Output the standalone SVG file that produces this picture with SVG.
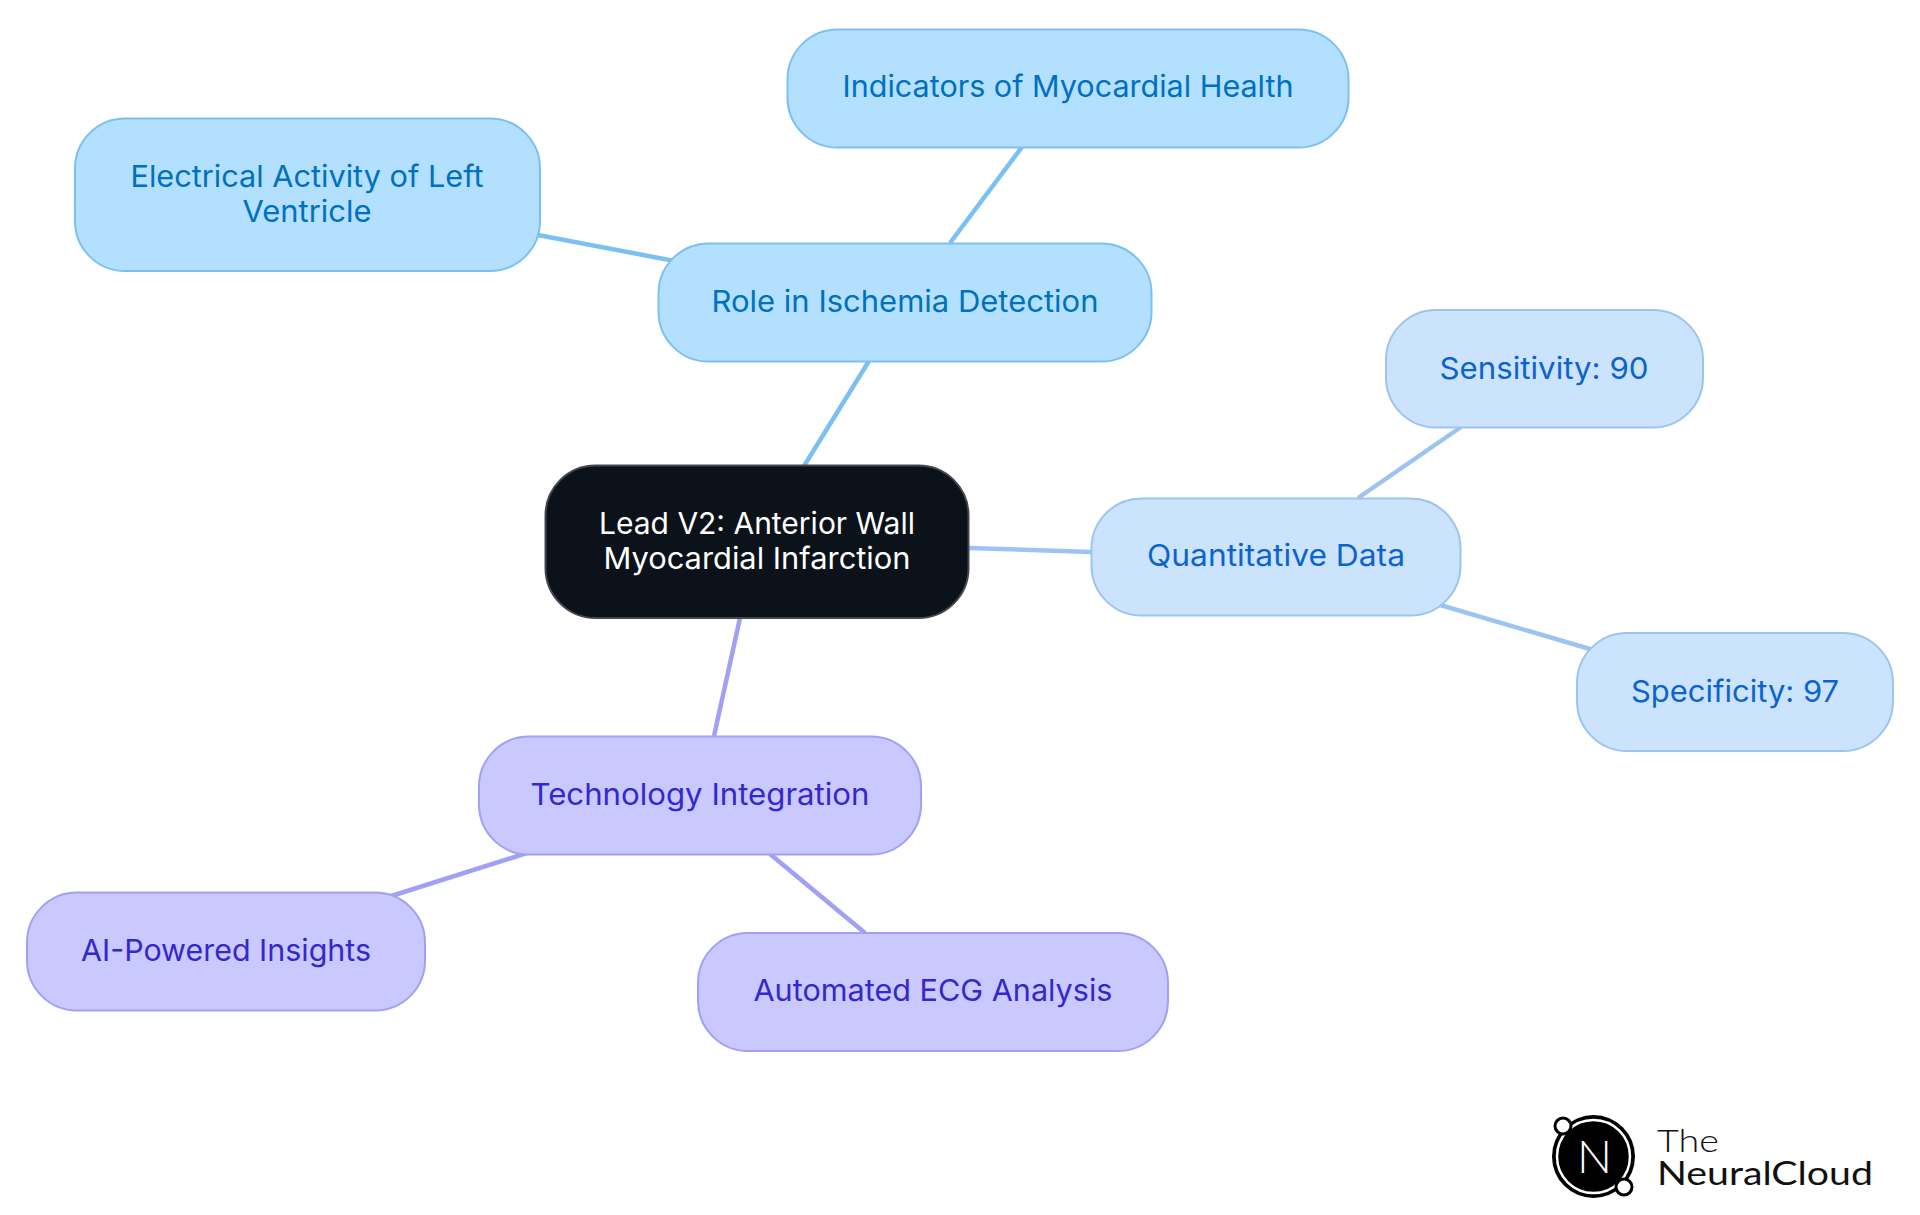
<svg xmlns="http://www.w3.org/2000/svg" width="1920" height="1215" viewBox="0 0 1920 1215">
<style>
text{font-family:"Inter","Noto Sans","Liberation Sans",sans-serif;font-size:30px;text-anchor:middle;font-weight:400}
.c{fill:none;stroke-width:4.5;stroke-linecap:butt}
.c1{stroke:#7cc0f2}.c2{stroke:#9cc4f0}.c3{stroke:#a0a0f5}
rect{stroke-width:2}
.n0 rect{fill:#0c121a;stroke:#44474c}.n0 text{fill:#fff}
.n1 rect{fill:#b3e0ff;stroke:#7cc0f2}.n1 text{fill:#0070c0}
.n2 rect{fill:#cce3fd;stroke:#9cc4f0}.n2 text{fill:#0b63cf}
.n3 rect{fill:#c9c9ff;stroke:#a0a0f5}.n3 text{fill:#3428cc}
.logo{font-family:"Lato","Open Sans",sans-serif;text-anchor:start;fill:#111;font-size:32px}
</style>
<rect width="1920" height="1215" fill="#fff" stroke="none"/>
<g id="connectors">
<path class="c c1" d="M804 466L869 361"/>
<path class="c c1" d="M950 243L1022 147"/>
<path class="c c1" d="M538 235L680 262"/>
<path class="c c2" d="M969 548L1091 552"/>
<path class="c c2" d="M1358 498L1461 427"/>
<path class="c c2" d="M1430 602L1600 652"/>
<path class="c c3" d="M740 618L714 736"/>
<path class="c c3" d="M527 853L385 898"/>
<path class="c c3" d="M770 854L865 933"/>
</g>
<g id="center" class="n0"><rect x="545.5" y="465.5" width="423" height="152.5" rx="50"/><text x="757" y="534" textLength="316" lengthAdjust="spacingAndGlyphs">Lead V2: Anterior Wall</text><text x="757" y="568.5" textLength="307" lengthAdjust="spacingAndGlyphs">Myocardial Infarction</text></g>
<g id="role" class="n1"><rect x="658.5" y="243.5" width="493" height="118" rx="50"/><text x="905" y="312" textLength="387" lengthAdjust="spacingAndGlyphs">Role in Ischemia Detection</text></g>
<g id="indicators" class="n1"><rect x="787.5" y="29.5" width="561" height="118" rx="50"/><text x="1068" y="97" textLength="451" lengthAdjust="spacingAndGlyphs">Indicators of Myocardial Health</text></g>
<g id="electrical" class="n1"><rect x="75" y="118.5" width="465" height="152.5" rx="50"/><text x="307" y="187" textLength="353" lengthAdjust="spacingAndGlyphs">Electrical Activity of Left</text><text x="307" y="221.5" textLength="129" lengthAdjust="spacingAndGlyphs">Ventricle</text></g>
<g id="quantitative" class="n2"><rect x="1091.5" y="498.5" width="369" height="117" rx="50"/><text x="1276" y="566" textLength="258" lengthAdjust="spacingAndGlyphs">Quantitative Data</text></g>
<g id="sensitivity" class="n2"><rect x="1386" y="310" width="317" height="117.5" rx="50"/><text x="1544" y="379" textLength="209" lengthAdjust="spacingAndGlyphs">Sensitivity: 90</text></g>
<g id="specificity" class="n2"><rect x="1577" y="633" width="316" height="118" rx="50"/><text x="1735" y="702" textLength="208" lengthAdjust="spacingAndGlyphs">Specificity: 97</text></g>
<g id="technology" class="n3"><rect x="479" y="736.5" width="442" height="118" rx="50"/><text x="700" y="805" textLength="339" lengthAdjust="spacingAndGlyphs">Technology Integration</text></g>
<g id="ai" class="n3"><rect x="27" y="892.5" width="398" height="118" rx="50"/><text x="226" y="961" textLength="290" lengthAdjust="spacingAndGlyphs">AI-Powered Insights</text></g>
<g id="automated" class="n3"><rect x="698" y="933" width="470" height="118" rx="50"/><text x="933" y="1001" textLength="359" lengthAdjust="spacingAndGlyphs">Automated ECG Analysis</text></g>
<g id="logo">
<circle cx="1593.5" cy="1156.5" r="41.5" fill="#000"/>
<circle cx="1593.5" cy="1156.5" r="36.5" fill="none" stroke="#fff" stroke-width="2.5"/>
<circle cx="1563" cy="1126" r="8" fill="#fff" stroke="#000" stroke-width="3"/>
<circle cx="1624" cy="1187" r="8" fill="#fff" stroke="#000" stroke-width="3"/>
<text x="1594.5" y="1173" textLength="35" lengthAdjust="spacingAndGlyphs" style="font-family:'Lato',sans-serif;font-size:46px;font-weight:300;fill:#fff">N</text>
<text class="logo" x="1657" y="1152" textLength="62" lengthAdjust="spacingAndGlyphs" style="font-weight:300">The</text>
<text class="logo" x="1657" y="1185" textLength="216" lengthAdjust="spacingAndGlyphs">NeuralCloud</text>
</g>
</svg>
